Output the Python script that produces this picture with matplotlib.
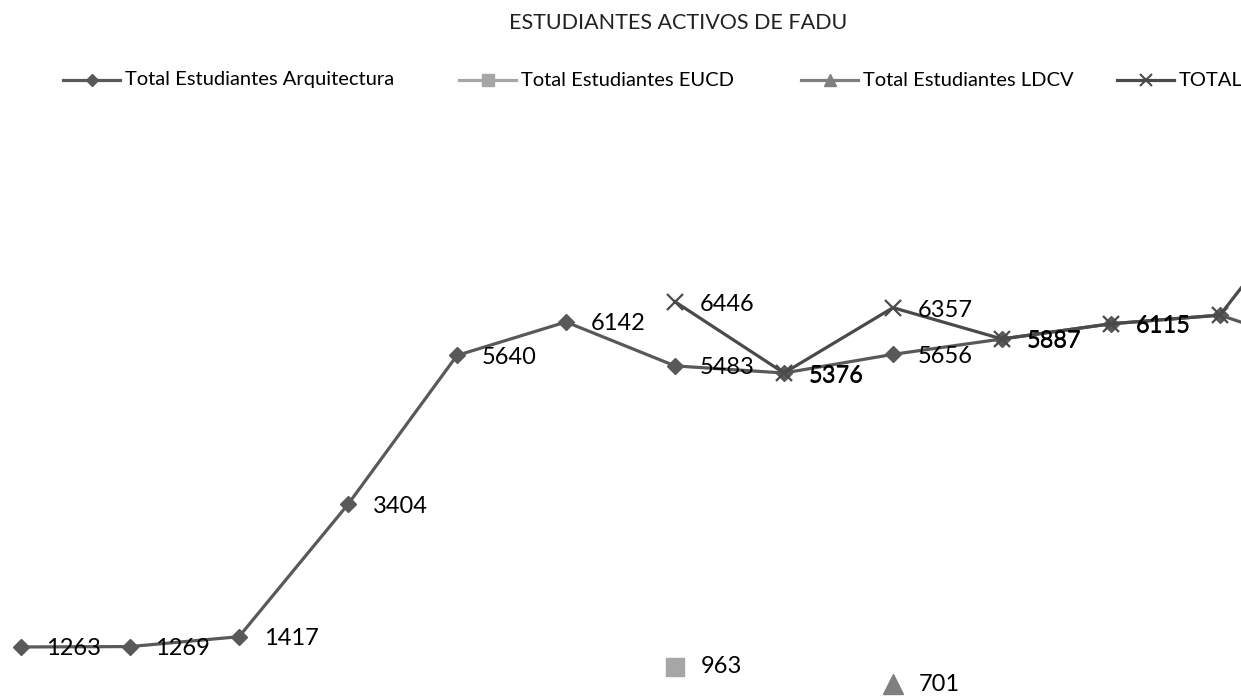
import numpy as np
import matplotlib
matplotlib.use("Agg")
import matplotlib.pyplot as plt
from matplotlib.lines import Line2D

plt.rcParams['font.family'] = ['Lato', 'DejaVu Sans']

title = "ESTUDIANTES ACTIVOS DE FADU"
series_names = ["Total Estudiantes Arquitectura", "Total Estudiantes EUCD",
                "Total Estudiantes LDCV", "TOTAL"]
x_index = list(range(13))
nan = np.nan
arquitectura = [1263, 1269, 1417, 3404, 5640, 6142, 5483, 5376, 5656, 5887, 6115, 6245, 5700]
eucd = [nan, nan, nan, nan, nan, nan, 963, nan, nan, nan, nan, nan, nan]
ldcv = [nan, nan, nan, nan, nan, nan, nan, nan, 701, nan, nan, nan, nan]
total = [nan, nan, nan, nan, nan, nan, 6446, 5376, 6357, 5887, 6115, 6245, 8350]

W, H = 1241, 699
fig = plt.figure(figsize=(W / 100, H / 100), dpi=100)
ax = fig.add_axes([0, 0, 1, 1])
ax.set_axis_off()

# pixel mapping: x_px = 21 + 109*i ; y_px = 731.1 - 0.06661*v
ax.set_xlim(-21 / 109, (W - 21) / 109)
ax.set_ylim((731.1 - H) / 0.06661, 731.1 / 0.06661)

c_arq = '#595959'
c_eucd = '#A6A6A6'
c_ldcv = '#7F7F7F'
c_tot = '#4A4A4A'
lw = 2.3

ax.plot(x_index, arquitectura, color=c_arq, lw=lw, marker='D', ms=8.5,
        mfc=c_arq, mec=c_arq, zorder=3)
ax.plot(x_index, eucd, color=c_eucd, lw=lw, marker='s', ms=13,
        mfc=c_eucd, mec=c_eucd, zorder=3, ls='none')
ax.plot(x_index, ldcv, color=c_ldcv, lw=lw, marker='^', ms=14,
        mfc=c_ldcv, mec=c_ldcv, zorder=3, ls='none')
ax.plot(x_index, total, color=c_tot, lw=lw, marker='x', ms=11, mew=1.6,
        zorder=4)

lab_fs = 17
def labels(vals, dx=25, dy=-2):
    for i, v in zip(x_index, vals):
        if v is None or (isinstance(v, float) and np.isnan(v)):
            continue
        ax.annotate(f"{v:.0f}", (i, v), xytext=(dx, dy), textcoords='offset pixels',
                    ha='left', va='center', fontsize=lab_fs, color='black',
                    annotation_clip=True, clip_on=True, zorder=5)

# labels beyond index 10 fall outside the visible frame
labels(arquitectura[:11])
labels(eucd, dx=26, dy=0)
labels(ldcv, dx=26, dy=0)
labels(total[:11], dy=-3)

# title
fig.text(678 / W, 1 - 23 / H, title, ha='center', va='center', fontsize=15.5, color='#222222')

# legend (manual)
leg_y = 80
entries = [
    (63, series_names[0], c_arq, 'D', 6.5),
    (459, series_names[1], c_eucd, 's', 9),
    (801, series_names[2], c_ldcv, '^', 9),
    (1117, series_names[3], c_tot, 'x', 8),
]
for x0, name, col, mk, ms in entries:
    yy = 1 - leg_y / H
    fig.add_artist(Line2D([x0 / W, (x0 + 57) / W], [yy, yy], color=col, lw=2.3,
                          transform=fig.transFigure))
    fig.add_artist(Line2D([(x0 + 28.5) / W], [yy], color=col, marker=mk, ms=ms,
                          mfc=col, mec=col, mew=1.5 if mk == 'x' else 1,
                          transform=fig.transFigure, ls='none'))
    fig.text((x0 + 62) / W, yy, name, ha='left', va='center', fontsize=14.5, color='black')

fig.savefig('out.png', dpi=100)
